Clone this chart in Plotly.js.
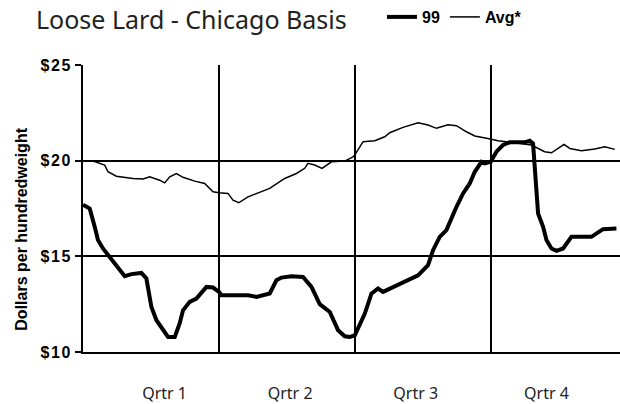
<!DOCTYPE html>
<html>
<head>
<meta charset="utf-8">
<script src="https://cdn.plot.ly/plotly-3.0.1.min.js"></script>
<style>
html, body { margin: 0; padding: 0; overflow: hidden; background: #fff; }
#chart { width: 640px; height: 404px; }
.ytick text { letter-spacing: 1.5px; }
</style>
</head>
<body>
<div id="chart"></div>
<script>
// Week of year (x) and price in $/cwt (y)
const weeks99 = [0, 0.64, 1.12, 1.43, 1.91, 2.55, 3.19, 3.99, 4.63, 5.58, 6.06, 6.28, 6.54, 7.02, 7.65, 8.13, 8.77, 9.24, 9.56, 10.2, 10.84, 11.8, 12.43, 13.0, 13.23, 15.77, 16.58, 17.85, 18.49, 18.97, 19.92, 21.03, 21.84, 22.63, 23.59, 24.38, 25.02, 25.5, 25.98, 26.94, 27.57, 28.2, 28.68, 29.64, 30.92, 32.03, 32.98, 33.46, 34.1, 34.74, 35.7, 36.33, 36.97, 37.45, 38.09, 38.4, 38.98, 39.52, 40.15, 40.79, 42.22, 42.7, 43.02, 43.18, 43.34, 43.5, 43.98, 44.3, 44.78, 45.26, 45.89, 46.69, 48.6, 49.71, 50.99];
const price99 = [17.7, 17.5, 16.54, 15.85, 15.41, 14.97, 14.54, 13.96, 14.07, 14.13, 13.84, 13.05, 12.35, 11.66, 11.14, 10.79, 10.79, 11.49, 12.18, 12.62, 12.79, 13.4, 13.37, 13.14, 12.97, 12.97, 12.88, 13.06, 13.75, 13.89, 13.96, 13.92, 13.4, 12.5, 12.09, 11.14, 10.82, 10.79, 10.87, 12.01, 13.05, 13.32, 13.14, 13.4, 13.75, 14.01, 14.54, 15.32, 16.02, 16.37, 17.59, 18.29, 18.81, 19.42, 19.94, 19.86, 19.94, 20.47, 20.82, 20.96, 20.96, 21.04, 20.9, 19.68, 18.29, 17.24, 16.54, 15.85, 15.41, 15.29, 15.41, 16.02, 16.02, 16.42, 16.46];

const weeksAvg = [0, 0.96, 2.07, 2.39, 3.19, 4.78, 5.74, 6.38, 7.33, 7.81, 8.29, 8.93, 9.56, 10.68, 11.63, 12.43, 13.0, 13.86, 14.34, 14.89, 15.77, 16.73, 17.85, 19.28, 20.4, 21.19, 21.51, 22.15, 22.85, 23.75, 25.02, 25.81, 25.98, 26.77, 27.89, 28.84, 29.32, 30.59, 32.03, 32.98, 33.79, 34.89, 35.7, 36.65, 37.45, 38.57, 39.67, 41.26, 42.86, 44.13, 44.78, 45.41, 45.98, 46.53, 47.65, 48.92, 49.88, 50.83];
const priceAvg = [20.0, 19.98, 19.77, 19.42, 19.19, 19.07, 19.04, 19.16, 18.98, 18.84, 19.16, 19.33, 19.13, 18.93, 18.81, 18.37, 18.32, 18.29, 17.94, 17.8, 18.11, 18.32, 18.55, 19.07, 19.33, 19.6, 19.86, 19.77, 19.6, 19.94, 19.98, 20.2, 20.29, 20.99, 21.04, 21.25, 21.46, 21.74, 21.98, 21.86, 21.69, 21.88, 21.83, 21.51, 21.29, 21.17, 21.04, 20.94, 20.82, 20.47, 20.41, 20.64, 20.85, 20.64, 20.52, 20.61, 20.73, 20.59];

const seriesNames = ['99', 'Avg*'];
const quarterLabels = ['Qrtr 1', 'Qrtr 2', 'Qrtr 3', 'Qrtr 4'];
const quarterLabelPos = [7.8, 19.8, 31.8, 44.3];
const quarterBounds = [13, 26, 39];
const priceTicks = [10, 15, 20, 25];
const priceTickText = ['$10', '$15', '$20', '$25'];

const boldFont = 'Liberation Sans Narrow, Liberation Sans, Arial, sans-serif';

const traces = [
  { x: weeks99, y: price99, name: seriesNames[0], type: 'scatter', mode: 'lines',
    line: { color: '#000', width: 4 }, xaxis: 'x', yaxis: 'y' },
  { x: weeksAvg, y: priceAvg, name: seriesNames[1], type: 'scatter', mode: 'lines',
    line: { color: '#000', width: 1.5 }, xaxis: 'x2', yaxis: 'y' }
];

const layout = {
  width: 640, height: 404,
  margin: { l: 83, r: 13, t: 65, b: 52 },
  paper_bgcolor: '#fff', plot_bgcolor: '#fff',
  title: {
    text: 'Loose Lard - Chicago Basis',
    font: { family: 'Noto Sans, sans-serif', size: 25, color: '#222' },
    xref: 'container', x: 36 / 640, xanchor: 'left',
    yref: 'container', y: 1 - 20 / 404, yanchor: 'middle', pad: { t: 0, b: 0, l: 0, r: 0 }
  },
  showlegend: true,
  legend: {
    orientation: 'h', xref: 'container', x: 382 / 640, xanchor: 'left',
    yref: 'container', y: 1 - 17 / 404, yanchor: 'middle',
    font: { family: boldFont, size: 16, color: '#000', weight: 'bold' },
    bgcolor: 'rgba(0,0,0,0)', itemwidth: 30
  },
  xaxis: {
    range: [0, 52], tickvals: quarterLabelPos, ticktext: quarterLabels,
    showgrid: false, zeroline: false, ticks: '',
    showline: true, linecolor: '#000', linewidth: 2,
    tickfont: { family: 'Noto Sans, sans-serif', size: 16, color: '#222' },
    ticklabelstandoff: 26
  },
  xaxis2: {
    range: [0, 52], overlaying: 'x', side: 'bottom',
    tickvals: quarterBounds, showticklabels: false, ticks: '',
    showgrid: true, gridcolor: '#000', gridwidth: 2, zeroline: false, showline: false
  },
  yaxis: {
    range: [10, 25], tickvals: priceTicks, ticktext: priceTickText,
    showgrid: true, gridcolor: '#000', gridwidth: 2, zeroline: false,
    showline: true, linecolor: '#000', linewidth: 2,
    ticks: 'outside', ticklen: 6, tickwidth: 2, tickcolor: '#000',
    tickfont: { family: boldFont, size: 16, color: '#000', weight: 'bold' }
  },
  annotations: [{
    text: 'Dollars per hundredweight', textangle: -90,
    xref: 'paper', yref: 'paper', x: -0.113, y: 0.428,
    xanchor: 'center', yanchor: 'middle', showarrow: false,
    font: { family: boldFont, size: 16, color: '#000', weight: 'bold' }
  }]
};

Plotly.newPlot('chart', traces, layout, { staticPlot: true, displayModeBar: false });
</script>
</body>
</html>
